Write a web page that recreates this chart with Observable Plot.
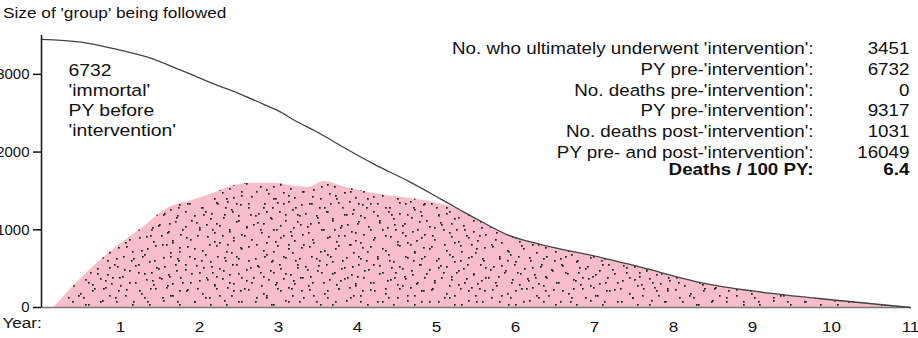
<!DOCTYPE html>
<html>
<head>
<meta charset="utf-8">
<script src="https://cdn.jsdelivr.net/npm/d3@7"></script>
<script src="https://cdn.jsdelivr.net/npm/@observablehq/plot@0.6"></script>
<style>
  body { margin: 0; background: #fff; font-family: "Liberation Sans", Arial, sans-serif; }
  #title { height: 28px; line-height: 26px; padding-left: 3px; font-size: 15px; color: #111; white-space: nowrap; }
  #title span { display: inline-block; transform: scaleX(1.15); transform-origin: left center; }
</style>
</head>
<body>
<div id="title"><span>Size of 'group' being followed</span></div>
<div id="chart"></div>
<script>
// Size of the followed group over time (whole cohort that ultimately got the intervention)
const lineYear = [0, 0.5, 0.92, 1.35, 1.77, 2.19, 2.53, 2.8, 3.0, 3.2, 3.54, 3.8, 4.22, 4.65, 5.06, 5.3, 5.56, 5.9, 6.3, 6.75, 7.1, 7.56, 8.39, 9.24, 10.09, 11];
const lineN    = [3451, 3415, 3330, 3218, 3052, 2874, 2740, 2620, 2530, 2410, 2230, 2075, 1839, 1622, 1392, 1255, 1110, 935, 815, 715, 640, 525, 310, 181, 90, 0];

// Number followed after the intervention (post-'intervention' person-time)
const areaYear = [0.15, 0.19, 0.42, 0.85, 1.27, 1.61, 1.9, 2.11, 2.44, 2.66, 2.95, 3.2, 3.38, 3.58, 3.8, 4.22, 4.65, 5.06, 5.3, 5.56, 5.9, 6.3, 6.75, 7.1, 7.56, 8.39, 9.24, 10.09, 11];
const areaN    = [0, 40, 290, 695, 1020, 1285, 1375, 1440, 1570, 1600, 1600, 1560, 1545, 1620, 1560, 1465, 1405, 1328, 1255, 1110, 935, 815, 715, 640, 525, 310, 181, 90, 0];

// Axis ticks
const yTicks = [0, 1000, 2000, 3000];
const xTicks = [1, 2, 3, 4, 5, 6, 7, 8, 9, 10, 11];

// Summary table
const immortalPY = 6732;
const statLabels = [
  "No. who ultimately underwent 'intervention':",
  "PY pre-'intervention':",
  "No. deaths pre-'intervention':",
  "PY pre-'intervention':",
  "No. deaths post-'intervention':",
  "PY pre- and post-'intervention':",
  "Deaths / 100 PY:"
];
const statValues = ["3451", "6732", "0", "9317", "1031", "16049", "6.4"];

const lineRows = lineYear.map((year, i) => ({year, n: lineN[i]}));
const areaRows = areaYear.map((year, i) => ({year, n: areaN[i]}));

// Stipple texture for the post-intervention area: two tiles of different sizes
// overlaid so the repeat is hard to see.
function stipplePatterns() {
  const defs = d3.create("svg:defs");
  const tiles = [
    ["deathDotsA", 61, 43, [[4,3],[19,7],[33,2],[48,9],[57,4],[11,15],[27,18],[41,14],[53,21],[2,26],[16,29],[36,25],
                           [46,31],[24,36],[58,34],[7,39],[31,41],[50,40],[13,22],[39,35],[22,11],[44,1],[29,29],[55,15]]],
    ["deathDotsB", 47, 53, [[6,8],[21,4],[38,11],[13,20],[29,16],[44,24],[3,33],[18,37],[35,30],[26,45],
                           [9,48],[41,42],[31,2],[15,27],[45,50],[23,26],[1,16],[37,20],[11,40],[28,36]]]
  ];
  for (const [id, w, h, pts] of tiles) {
    const p = defs.append("pattern").attr("id", id)
      .attr("patternUnits", "userSpaceOnUse").attr("width", w).attr("height", h);
    for (const [x, y] of pts) {
      p.append("rect").attr("x", x).attr("y", y).attr("width", 1.7).attr("height", 1.7).attr("fill", "#1e1e1e");
    }
  }
  return defs.node();
}

const font = "Liberation Sans, Arial, sans-serif";
const rowH = 20.7;

const chart = Plot.plot({
  width: 918,
  height: 310,
  marginLeft: 41,
  marginRight: 8,
  marginTop: 7,
  marginBottom: 31,
  style: {fontFamily: font, fontSize: "15px", color: "#111", background: "#fff"},
  x: {domain: [0, 11]},
  y: {domain: [0, 3500]},
  marks: [
    stipplePatterns,
    Plot.areaY(areaRows, {x: "year", y: "n", fill: "#f7bdca", curve: "monotone-x"}),
    Plot.areaY(areaRows, {x: "year", y: "n", fill: "url(#deathDotsA)", curve: "monotone-x"}),
    Plot.areaY(areaRows, {x: "year", y: "n", fill: "url(#deathDotsB)", curve: "monotone-x"}),
    Plot.ruleY([0], {stroke: "#777", strokeWidth: 1.5}),
    Plot.lineY(lineRows, {x: "year", y: "n", stroke: "#444", strokeWidth: 1.3, curve: "monotone-x"}),
    Plot.ruleX([0], {y1: 0, y2: 3500, stroke: "#111", strokeWidth: 1.5}),
    Plot.axisY({ticks: yTicks, tickSize: 8, tickPadding: 4, tickFormat: "d", label: null, stroke: "#111", strokeWidth: 1.5, fontSize: 15}),
    Plot.axisX({ticks: xTicks, tickSize: 0, tickPadding: 14, tickFormat: "d", label: null, fontSize: 15}),
    Plot.text(["Year:"], {frameAnchor: "bottom-left", dx: -39, dy: 20, textAnchor: "start", fontSize: 15}),
    Plot.text([`${immortalPY}\n'immortal'\nPY before\n'intervention'`], {
      frameAnchor: "top-left", dx: 27, dy: 26, textAnchor: "start", lineAnchor: "top", fontSize: 17, lineHeight: 20 / 17
    }),
    Plot.text([statLabels.slice(0, 6).join("\n")], {
      frameAnchor: "top-right", dx: -97, dy: 4, textAnchor: "end", lineAnchor: "top", fontSize: 16.5, lineHeight: rowH / 16.5
    }),
    Plot.text([statValues.slice(0, 6).join("\n")], {
      frameAnchor: "top-right", dx: -1, dy: 4, textAnchor: "end", lineAnchor: "top", fontSize: 16.5, lineHeight: rowH / 16.5
    }),
    Plot.text([statLabels[6]], {
      frameAnchor: "top-right", dx: -97, dy: 4 + 6 * rowH, textAnchor: "end", lineAnchor: "top", fontSize: 16.5, fontWeight: "bold"
    }),
    Plot.text([statValues[6]], {
      frameAnchor: "top-right", dx: -1, dy: 4 + 6 * rowH, textAnchor: "end", lineAnchor: "top", fontSize: 16.5, fontWeight: "bold"
    })
  ]
});

// The lettering of this chart is set slightly wide: stretch the texts horizontally
// about their own anchor point (only x matters, the vertical scale stays 1).
// The y tick labels keep their natural width.
const stretch = 1.14;
chart.querySelectorAll("text").forEach((t) => {
  if (t.closest('[aria-label="y-axis tick label"]')) return;
  const x = parseFloat(t.getAttribute("x"));
  const ax = Number.isFinite(x) ? x : 0;
  const base = t.getAttribute("transform") || "";
  t.setAttribute("transform", `${base} translate(${ax},0) scale(${stretch},1) translate(${-ax},0)`.trim());
});

document.getElementById("chart").appendChild(chart);
</script>
</body>
</html>
